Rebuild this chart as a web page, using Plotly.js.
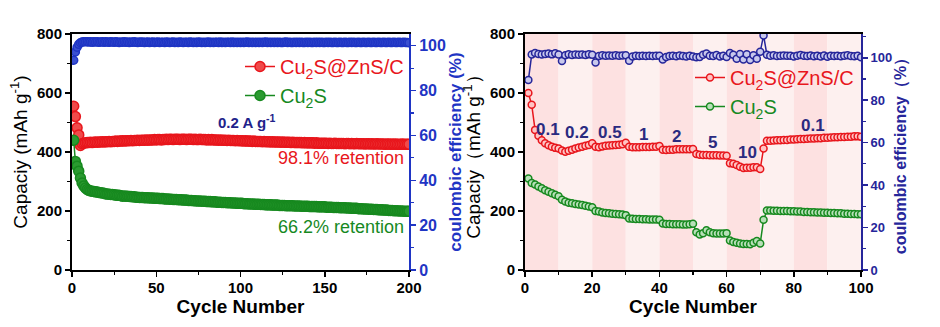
<!DOCTYPE html>
<html>
<head>
<meta charset="utf-8">
<script src="https://cdn.plot.ly/plotly-3.0.1.min.js"></script>
<style>html,body{margin:0;padding:0;background:#fff;}#chart{width:940px;height:327px;}</style>
</head>
<body>
<div id="chart"></div>
<script>
// ---------- Data: left panel (cycling at 0.2 A g-1, 200 cycles) ----------
const cycleLabel = 'Cycle Number';
const seriesNames = ['Cu<sub>2</sub>S@ZnS/C', 'Cu<sub>2</sub>S'];

const longCapComposite = [
555,520,482,458,422,428,430,431,432,432,
433,432,433,434,433,434,434,435,434,435,
435,436,435,436,436,437,436,437,437,438,
437,438,438,438,439,438,439,439,440,439,
440,440,440,441,440,441,441,441,442,441,
442,442,441,442,442,443,442,443,443,442,
443,443,443,442,443,443,443,442,443,443,
443,442,443,442,442,443,442,442,442,441,
442,441,442,441,441,441,440,441,440,440,
440,439,440,439,439,439,438,439,438,438,
438,437,438,437,437,437,436,437,436,436,
436,436,435,436,435,435,435,434,435,434,
434,434,434,433,434,433,433,433,433,432,
433,432,432,432,432,432,431,432,431,431,
431,431,431,430,431,430,430,430,430,430,
430,429,430,429,429,430,429,429,429,429,
429,428,429,429,428,429,428,428,429,428,
428,428,428,427,428,428,427,428,427,427,
428,427,427,427,427,426,427,427,426,427,
426,427,426,426,426,427,426,426,426,426];

const longCapCu2S = [
440,368,352,335,312,295,285,278,273,270,
268,267,266,265,264,263,262,261,260,258,
258,257,256,256,255,254,253,253,252,250,
251,250,250,249,249,248,248,247,247,246,
246,246,245,245,245,244,244,244,243,243,
243,242,242,242,241,241,241,240,240,239,
239,239,238,238,238,237,237,237,236,236,
236,235,235,234,234,234,233,233,233,232,
232,232,231,231,231,230,230,230,229,229,
229,228,228,228,227,227,227,226,226,226,
226,225,225,225,224,224,224,223,223,223,
223,222,222,222,221,221,221,221,220,220,
220,220,219,219,219,219,218,218,218,218,
218,217,217,217,217,216,216,216,216,216,
215,215,215,215,215,214,214,214,214,214,
213,213,213,213,212,212,212,212,211,211,
211,211,210,210,210,209,209,209,209,208,
208,208,207,207,207,206,206,206,205,205,
205,204,204,204,203,203,203,202,202,202,
201,201,201,200,200,200,199,199,199,199];

const longCE = [
93.5,97.2,99.3,100.6,101.3,101.6,101.8,101.7,101.8,101.6,
101.7,101.5,101.8,101.6,101.7,101.5,101.6,101.8,101.5,101.7,
101.6,101.5,101.7,101.6,101.5,101.7,101.6,101.4,101.6,101.5,
101.7,101.5,101.6,101.4,101.6,101.5,101.7,101.5,101.4,101.6,
101.5,101.6,101.4,101.5,101.6,101.4,101.5,101.6,101.4,101.5,
101.6,101.4,101.5,101.5,101.4,101.6,101.5,101.4,101.5,101.6,
101.4,101.5,101.4,101.6,101.5,101.4,101.5,101.5,101.4,101.6,
101.5,101.4,101.5,101.4,101.6,101.5,101.4,101.5,101.4,101.5,
101.6,101.4,101.5,101.4,101.5,101.5,101.4,101.6,101.4,101.5,
101.4,101.5,101.5,101.4,101.6,101.4,101.5,101.4,101.5,101.4,
101.5,101.4,101.5,101.6,101.4,101.5,101.4,101.5,101.4,101.5,
101.4,101.5,101.4,101.5,101.6,101.4,101.5,101.4,101.5,101.4,
101.5,101.4,101.5,101.4,101.4,101.5,101.6,101.4,101.5,101.4,
101.4,101.5,101.4,101.5,101.4,101.5,101.4,101.4,101.5,101.4,
101.5,101.4,101.4,101.5,101.4,101.5,101.4,101.5,101.4,101.4,
101.5,101.4,101.5,101.4,101.4,101.5,101.4,101.4,101.5,101.4,
101.4,101.5,101.4,101.4,101.5,101.4,101.5,101.4,101.4,101.5,
101.4,101.4,101.5,101.4,101.4,101.5,101.4,101.4,101.5,101.4,
101.4,101.5,101.4,101.4,101.5,101.4,101.4,101.5,101.4,101.4,
101.5,101.4,101.4,101.5,101.4,101.4,101.5,101.4,101.4,101.3];

// ---------- Data: right panel (rate capability, 100 cycles) ----------
const rateCapComposite = [
600,560,475,455,440,430,423,418,414,412,
405,401,404,408,412,415,418,421,424,430,
418,416,419,421,422,423,424,425,426,431,
418,416,416,416,417,417,417,418,418,420,
408,407,408,408,409,409,409,409,409,410,
393,391,390,390,389,389,389,388,388,387,
362,360,356,350,346,347,347,348,348,342,
412,438,438,439,440,440,441,441,442,442,
443,444,444,445,446,446,447,447,448,448,
449,450,450,451,451,452,452,453,453,452];

const rateCapCu2S = [
310,295,290,283,277,270,265,260,255,250,
238,232,228,226,224,222,220,218,215,213,
200,198,195,193,192,191,190,189,188,186,
175,174,173,173,172,172,171,171,171,170,
158,156,156,155,155,155,154,154,155,157,
128,120,125,135,128,125,124,124,124,125,
100,95,92,90,88,88,87,92,98,90,
170,202,202,201,201,200,200,200,199,199,
198,198,197,197,196,196,195,195,194,194,
193,193,192,192,191,191,190,190,189,189];

const rateCE = [
89.5,101.5,102.2,101.8,101.5,101.8,102,101.6,102.1,101.5,
98.5,101.2,101.6,101.3,101.5,101.4,101.5,101.3,101.6,101.4,
97.8,100.8,101.2,101,101.1,101,101.2,101,101.1,101.2,
98.6,100.6,100.9,100.8,100.9,100.8,101,100.8,101,100.9,
99.2,100.4,100.8,101,100.7,101.1,100.8,100.6,100.9,100.6,
100.2,100.4,101.4,102,101,100.8,101.3,100.6,100.9,100.4,
102.3,101.4,99.5,101.8,99.2,101.6,99,101.2,99.5,102.8,
110.5,101.4,101,101.2,100.8,101,101.1,100.9,101,100.6,
100.9,101.3,101,100.8,101.1,100.7,100.9,100.6,101.1,100.5,
101,100.8,101,100.7,100.9,101.2,100.8,100.7,100.9,100.3];

const rateLabels = ['0.1','0.2','0.5','1','2','5','10','0.1'];
const longNote = '0.2 A g<sup>-1</sup>';
const retentionLabels = ['98.1% retention', '66.2% retention'];

// ---------- Styles ----------
const RED = '#e8161c', GREEN = '#17891f', BLUE_L = '#1f35c4', NAVY = '#26269a';
const FONT = 'Liberation Sans, Arial, sans-serif';
const W = 940, H = 327;
const domL = [72/W, 409/W], domR = [525/W, 861/W], domY = [57/H, 293/H];

function capTrace(y, name, color, fill, xa, ya, size, leg, showleg) {
  return {type:'scatter', mode:'lines+markers', x0:1, dx:1, y:y, name:name,
    xaxis:xa, yaxis:ya, legend:leg, showlegend:showleg,
    line:{color:color, width:1.5},
    marker:{symbol:'circle', size:size, color:fill, line:{color:color, width:1.5}}};
}

const legName = (n, c) => '<span style="color:' + c + '">' + n + '</span>';

const traces = [
  capTrace(longCapComposite, legName(seriesNames[0], RED), RED, '#f04a4a', 'x', 'y', 10, 'legend', true),
  capTrace(longCapCu2S, legName(seriesNames[1], GREEN), GREEN, '#2a9a30', 'x', 'y', 10, 'legend', true),
  capTrace(longCE, 'CE', BLUE_L, '#3a50d0', 'x', 'y2', 8, 'legend', false),
  capTrace(rateCapComposite, legName(seriesNames[0], RED), RED, '#ffc4c4', 'x2', 'y3', 7, 'legend2', true),
  capTrace(rateCapCu2S, legName(seriesNames[1], GREEN), GREEN, '#b8e0b8', 'x2', 'y3', 7, 'legend2', true),
  capTrace(rateCE, 'CE', NAVY, '#c8c8ec', 'x2', 'y4', 7, 'legend2', false)
];

const tickFont = (c, s) => ({family:FONT, size:s, color:c, weight:'bold'});
const titleFont = (c, s, w) => ({family:FONT, size:s, color:c, weight:w || 'bold'});

function xAxis(dom, range, dtick, minor, anchor) {
  return {domain:dom, range:range, anchor:anchor, dtick:dtick, tick0:0,
    ticks:'outside', ticklen:5, tickwidth:1.5, tickcolor:'#000',
    minor:{dtick:minor, ticks:'outside', ticklen:3, tickwidth:1.2, tickcolor:'#000'},
    showline:true, linecolor:'#000', linewidth:2, mirror:true,
    showgrid:false, zeroline:false, automargin:false, ticklabelstandoff:-2,
    tickfont:tickFont('#000', 15),
    title:{text:cycleLabel, font:titleFont('#000', 19), standoff:0}};
}
function capAxis(anchor, title) {
  return {domain:domY, range:[0,800], anchor:anchor, dtick:200, tick0:0,
    ticks:'outside', ticklen:5, tickwidth:1.5, tickcolor:'#000',
    minor:{dtick:100, ticks:'outside', ticklen:3, tickwidth:1.2, tickcolor:'#000'},
    showline:true, linecolor:'#000', linewidth:2, mirror:false,
    showgrid:false, zeroline:false, automargin:false,
    tickfont:tickFont('#000', 15),
    title:{text:title, font:titleFont('#000', 19, 'normal'), standoff:4}};
}
function ceAxis(over, anchor, range, color, tsize, title, ttsize, so) {
  return {overlaying:over, anchor:anchor, side:'right', range:range, dtick:20, tick0:0,
    ticks:'outside', ticklen:5, tickwidth:1.5, tickcolor:color,
    minor:{dtick:10, ticks:'outside', ticklen:3, tickwidth:1.2, tickcolor:color},
    showline:true, linecolor:color, linewidth:2,
    showgrid:false, zeroline:false, automargin:false,
    tickfont:tickFont(color, tsize),
    title:{text:title, font:titleFont(color, ttsize), standoff:so}};
}

// background bands of the rate test (one per 10-cycle step)
const shapes = [];
for (let i = 0; i < 10; i++) {
  shapes.push({type:'rect', xref:'x2', yref:'y3 domain', x0:i*10, x1:i*10+10, y0:0, y1:1,
    fillcolor: i % 2 === 0 ? '#fde1e1' : '#fdf0ef', line:{width:0}, layer:'below'});
}

const annFont = (c, s) => ({family:FONT, size:s, color:c});
const annotations = [
  {xref:'x', yref:'y', x:104, y:502, text:longNote, showarrow:false, font:{family:FONT, size:15, color:'#22228a', weight:'bold'}},
  {xref:'x', yref:'y', x:198, y:380, xanchor:'right', text:retentionLabels[0], showarrow:false, font:annFont(RED, 18)},
  {xref:'x', yref:'y', x:198, y:146, xanchor:'right', text:retentionLabels[1], showarrow:false, font:annFont(GREEN, 18)}
];
const ratePos = [[6.8,476],[15.5,466],[25.3,466],[35.4,459],[45.2,452],[55.7,432],[66.1,398],[85.7,490]];
rateLabels.forEach((t, i) => annotations.push({xref:'x2', yref:'y3', x:ratePos[i][0], y:ratePos[i][1], text:t,
  showarrow:false, font:{family:FONT, size:17, color:'#2a2a80', weight:'bold'}}));

const legendBase = {bgcolor:'rgba(0,0,0,0)', borderwidth:0, xanchor:'left', yanchor:'top',
  font:{family:FONT, size:20}, tracegroupgap:0, itemsizing:'trace'};

const layout = {
  width:W, height:H, margin:{l:0, r:0, t:0, b:0},
  paper_bgcolor:'#fff', plot_bgcolor:'rgba(0,0,0,0)',
  font:{family:FONT},
  xaxis: xAxis(domL, [0,200], 50, 25, 'y'),
  yaxis: capAxis('x', 'Capaciy (mAh g<sup>-1</sup>)'),
  yaxis2: ceAxis('y', 'x', [0,105.2], BLUE_L, 16, 'coulombic efficiency (%)', 17, 0),
  xaxis2: xAxis(domR, [0,100], 20, 10, 'y3'),
  yaxis3: capAxis('x2', 'Capaciy\uFF08mAh g<sup>-1</sup>\uFF09'),
  yaxis4: ceAxis('y3', 'x2', [0,111.2], NAVY, 13, 'coulombic efficiency\uFF08%\uFF09', 16, 2),
  legend: Object.assign({}, legendBase, {x:240/W, y:(H-47)/H}),
  legend2: Object.assign({}, legendBase, {x:690/W, y:(H-58)/H}),
  shapes: shapes,
  annotations: annotations
};

Plotly.newPlot('chart', traces, layout, {displayModeBar:false, staticPlot:true});
</script>
</body>
</html>
